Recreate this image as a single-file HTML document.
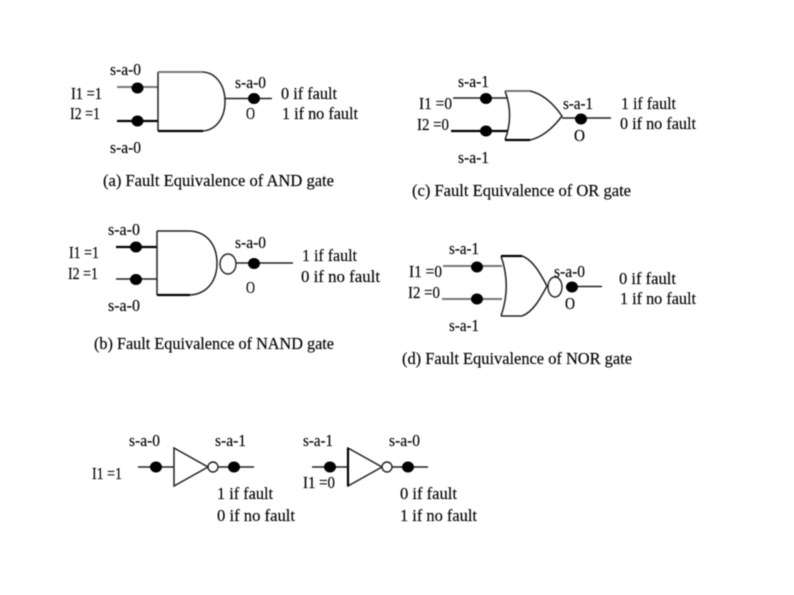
<!DOCTYPE html>
<html>
<head>
<meta charset="utf-8">
<style>
html,body{margin:0;padding:0;background:#fff;width:794px;height:595px;overflow:hidden}
svg{display:block;filter:blur(0.45px)}
text{font-family:"Liberation Serif",serif;font-size:17px;fill:#000;stroke:#000;stroke-width:0.15}
.w{fill:none;stroke:#222;stroke-width:1.5}
.g{fill:none;stroke:#777;stroke-width:2}
.k{fill:none;stroke:#000;stroke-width:2.2}
.d{fill:#000;stroke:none}
.b{fill:#fff;stroke:#222;stroke-width:1.4}
</style>
</head>
<body>
<svg width="794" height="595" viewBox="0 0 794 595" xmlns="http://www.w3.org/2000/svg">
<rect width="794" height="595" fill="#fff"/>

<!-- (a) AND -->
<line class="g" x1="117" y1="87" x2="158" y2="87"/>
<line class="k" x1="117" y1="121" x2="158" y2="121"/>
<path class="w" d="M158 72V131M203 72C216 73 225 85 225 101.500C225 118 216 130 203 131"/>
<line class="g" x1="158" y1="72" x2="203" y2="72"/>
<line class="k" x1="158" y1="131" x2="203" y2="131"/>
<line class="w" x1="225" y1="98.500" x2="272" y2="98.500"/>
<ellipse class="d" cx="137.500" cy="88" rx="6" ry="5.500"/>
<ellipse class="d" cx="137.500" cy="121" rx="6" ry="5.500"/>
<ellipse class="d" cx="254" cy="98.500" rx="6" ry="5.500"/>
<text x="110" y="75" textLength="31" lengthAdjust="spacingAndGlyphs">s-a-0</text>
<text x="71" y="99" textLength="31" lengthAdjust="spacingAndGlyphs">I1 =1</text>
<text x="70" y="119" textLength="30" lengthAdjust="spacingAndGlyphs">I2 =1</text>
<text x="110" y="153" textLength="31" lengthAdjust="spacingAndGlyphs">s-a-0</text>
<text x="235" y="88" textLength="31" lengthAdjust="spacingAndGlyphs">s-a-0</text>
<text x="281" y="99" textLength="56" lengthAdjust="spacingAndGlyphs">0 if fault</text>
<text x="282" y="119" textLength="76" lengthAdjust="spacingAndGlyphs">1 if no fault</text>
<text x="246" y="119" textLength="9" lengthAdjust="spacingAndGlyphs">O</text>
<text x="103" y="186" textLength="231" lengthAdjust="spacingAndGlyphs">(a) Fault Equivalence of AND gate</text>

<!-- (c) OR -->
<line class="w" x1="453" y1="98" x2="508" y2="98"/>
<line class="k" x1="451" y1="131" x2="508" y2="131"/>
<path class="w" d="M505 91C511 107 511 124 505 140M530 91C543 94 553 103 562 116C553 128 543 137 530 140"/>
<line class="g" x1="505" y1="91" x2="530" y2="91"/>
<line class="k" x1="505" y1="140" x2="530" y2="140"/>
<line class="w" x1="562" y1="118" x2="611" y2="118"/>
<ellipse class="d" cx="486" cy="98.500" rx="6" ry="5.500"/>
<ellipse class="d" cx="486" cy="131" rx="6" ry="5.500"/>
<ellipse class="d" cx="581" cy="119" rx="6" ry="5.500"/>
<text x="458" y="87" textLength="31" lengthAdjust="spacingAndGlyphs">s-a-1</text>
<text x="419" y="109" textLength="33" lengthAdjust="spacingAndGlyphs">I1 =0</text>
<text x="417" y="130" textLength="32" lengthAdjust="spacingAndGlyphs">I2 =0</text>
<text x="458" y="163" textLength="31" lengthAdjust="spacingAndGlyphs">s-a-1</text>
<text x="563" y="109" textLength="30" lengthAdjust="spacingAndGlyphs">s-a-1</text>
<text x="621" y="109" textLength="55" lengthAdjust="spacingAndGlyphs">1 if fault</text>
<text x="620" y="129" textLength="76" lengthAdjust="spacingAndGlyphs">0 if no fault</text>
<text x="574" y="141" textLength="11" lengthAdjust="spacingAndGlyphs">O</text>
<text x="412" y="196" textLength="219" lengthAdjust="spacingAndGlyphs">(c) Fault Equivalence of OR gate</text>

<!-- (b) NAND -->
<line class="k" x1="116" y1="247" x2="157" y2="247"/>
<line class="w" x1="116" y1="279" x2="157" y2="279"/>
<path class="w" d="M157 231V295M157 231H190C207 232 217 245 217 263C217 281 207 294 190 295"/>
<line class="k" x1="157" y1="295" x2="190" y2="295"/>
<ellipse class="b" cx="228" cy="264" rx="8" ry="10"/>
<line class="w" x1="236" y1="263" x2="293" y2="263"/>
<ellipse class="d" cx="136" cy="247" rx="6" ry="5.500"/>
<ellipse class="d" cx="136" cy="279.500" rx="6" ry="5.500"/>
<ellipse class="d" cx="254" cy="263.500" rx="6" ry="5.500"/>
<text x="108" y="235" textLength="32" lengthAdjust="spacingAndGlyphs">s-a-0</text>
<text x="69" y="258" textLength="30" lengthAdjust="spacingAndGlyphs">I1 =1</text>
<text x="68" y="279" textLength="30" lengthAdjust="spacingAndGlyphs">I2 =1</text>
<text x="108" y="311" textLength="32" lengthAdjust="spacingAndGlyphs">s-a-0</text>
<text x="235" y="248" textLength="31" lengthAdjust="spacingAndGlyphs">s-a-0</text>
<text x="302" y="261" textLength="55" lengthAdjust="spacingAndGlyphs">1 if fault</text>
<text x="301" y="282" textLength="79" lengthAdjust="spacingAndGlyphs">0 if no fault</text>
<text x="246" y="293" textLength="9" lengthAdjust="spacingAndGlyphs">O</text>
<text x="94" y="349" textLength="240" lengthAdjust="spacingAndGlyphs">(b) Fault Equivalence of NAND gate</text>

<!-- (d) NOR -->
<line class="g" x1="443" y1="266" x2="502" y2="266"/>
<line class="g" x1="442" y1="299" x2="502" y2="299"/>
<path class="w" d="M501 256C508 276 508 296 501 316M522 256C533 260 540 273 547 286C540 299 533 312 522 316M501 316H522"/>
<line class="k" x1="501" y1="256" x2="522" y2="256"/>
<ellipse class="b" cx="555" cy="287" rx="7" ry="10"/>
<line class="w" x1="566" y1="286.500" x2="602" y2="286.500"/>
<ellipse class="d" cx="477" cy="267" rx="6" ry="5.500"/>
<ellipse class="d" cx="477" cy="299" rx="6" ry="5.500"/>
<ellipse class="d" cx="572" cy="287" rx="6" ry="5.500"/>
<text x="449" y="254" textLength="30" lengthAdjust="spacingAndGlyphs">s-a-1</text>
<text x="409" y="277" textLength="33" lengthAdjust="spacingAndGlyphs">I1 =0</text>
<text x="408" y="298" textLength="32" lengthAdjust="spacingAndGlyphs">I2 =0</text>
<text x="449" y="331" textLength="30" lengthAdjust="spacingAndGlyphs">s-a-1</text>
<text x="554" y="277" textLength="31" lengthAdjust="spacingAndGlyphs">s-a-0</text>
<text x="565" y="309" textLength="10" lengthAdjust="spacingAndGlyphs">O</text>
<text x="619" y="284" textLength="57" lengthAdjust="spacingAndGlyphs">0 if fault</text>
<text x="620" y="304" textLength="76" lengthAdjust="spacingAndGlyphs">1 if no fault</text>
<text x="402" y="364" textLength="230" lengthAdjust="spacingAndGlyphs">(d) Fault Equivalence of NOR gate</text>

<!-- Inverter 1 -->
<line class="w" x1="138" y1="467" x2="174" y2="467"/>
<path class="w" d="M174 448V486L208 467Z"/>
<circle class="b" cx="213" cy="467" r="5"/>
<line class="w" x1="218" y1="467" x2="254" y2="467"/>
<ellipse class="d" cx="156" cy="467" rx="6" ry="5.500"/>
<ellipse class="d" cx="234" cy="467" rx="6" ry="5.500"/>
<text x="129" y="446" textLength="31" lengthAdjust="spacingAndGlyphs">s-a-0</text>
<text x="215" y="446" textLength="31" lengthAdjust="spacingAndGlyphs">s-a-1</text>
<text x="92" y="479" textLength="30" lengthAdjust="spacingAndGlyphs">I1 =1</text>
<text x="217" y="499" textLength="56" lengthAdjust="spacingAndGlyphs">1 if fault</text>
<text x="217" y="521" textLength="78" lengthAdjust="spacingAndGlyphs">0 if no fault</text>

<!-- Inverter 2 -->
<line class="w" x1="312" y1="467" x2="348" y2="467"/>
<path class="w" d="M348 448V486L382 467Z"/>
<line class="k" x1="348" y1="448" x2="348" y2="486"/>
<circle class="b" cx="387" cy="467" r="5"/>
<line class="w" x1="392" y1="467" x2="428" y2="467"/>
<ellipse class="d" cx="330" cy="467" rx="6" ry="5.500"/>
<ellipse class="d" cx="408" cy="467" rx="6" ry="5.500"/>
<text x="303" y="446" textLength="30" lengthAdjust="spacingAndGlyphs">s-a-1</text>
<text x="389" y="446" textLength="31" lengthAdjust="spacingAndGlyphs">s-a-0</text>
<text x="303" y="488" textLength="32" lengthAdjust="spacingAndGlyphs">I1 =0</text>
<text x="400" y="499" textLength="57" lengthAdjust="spacingAndGlyphs">0 if fault</text>
<text x="400" y="521" textLength="77" lengthAdjust="spacingAndGlyphs">1 if no fault</text>
</svg>
</body>
</html>
